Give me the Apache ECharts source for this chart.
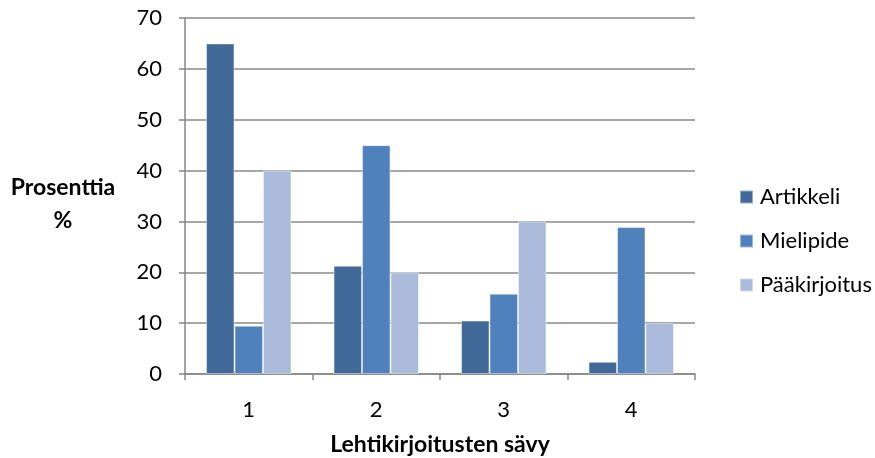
<!DOCTYPE html>
<html><head><meta charset="utf-8">
<script src="https://cdn.jsdelivr.net/npm/echarts@6/dist/echarts.min.js"></script>
<style>html,body{margin:0;padding:0;background:#fff}#c{width:875px;height:458px}</style>
</head><body><div id="c"></div>
<script>
const categories = ['1', '2', '3', '4'];
const seriesNames = ['Artikkeli', 'Mielipide', 'Pääkirjoitus'];
const artikkeli = [65, 21.3, 10.5, 2.4];
const mielipide = [9.5, 45, 15.8, 28.9];
const paakirjoitus = [40, 20, 30, 10];
const yTicks = [0, 10, 20, 30, 40, 50, 60, 70];
const yAxisTitle = 'Prosenttia\n%';
const xAxisTitle = 'Lehtikirjoitusten sävy';
const colors = ['#416A9B', '#4F81BD', '#AABADA'];

const font = 'Lato, "Open Sans", sans-serif';
const el = document.getElementById('c');
const chart = echarts.init(el);
const values = [artikkeli, mielipide, paakirjoitus];
chart.setOption({
  animation: false,
  textStyle: { fontFamily: font },
  graphic: [{
    type: 'text', x: 63, y: 204,
    style: { text: yAxisTitle, align: 'center', verticalAlign: 'middle', lineHeight: 33,
      fontSize: 23, fontWeight: 'bold', fontFamily: font, fill: '#000' }
  }],
  grid: { left: 185, right: 180, top: 18, bottom: 84, containLabel: false, outerBoundsMode: 'none' },
  legend: {
    orient: 'vertical', left: 734, top: 181,
    itemWidth: 13, itemHeight: 13, itemGap: 22,
    icon: 'rect',
    textStyle: { fontSize: 22, color: '#000', fontFamily: font, padding: [0, 0, 0, 2] },
    data: seriesNames
  },
  xAxis: {
    type: 'category', data: categories,
    name: xAxisTitle, nameLocation: 'middle', nameGap: 59,
    nameTextStyle: { fontSize: 23, fontWeight: 'bold', color: '#000', fontFamily: font },
    axisLine: { lineStyle: { color: '#868686', width: 1.5 } },
    axisTick: { show: true, length: 6, lineStyle: { color: '#868686', width: 1.5 } },
    axisLabel: { fontSize: 22, color: '#000', margin: 25, fontFamily: font }
  },
  yAxis: {
    type: 'value', min: yTicks[0], max: yTicks[yTicks.length - 1], interval: 10,
    axisLine: { show: true, lineStyle: { color: '#868686', width: 1.5 } },
    axisTick: { show: true, length: 6, lineStyle: { color: '#868686', width: 1.5 } },
    axisLabel: { fontSize: 22, color: '#000', margin: 23, fontFamily: font },
    splitLine: { lineStyle: { color: '#8a8a8a', width: 1.5 } }
  },
  series: seriesNames.map((n, i) => ({
    name: n, type: 'bar', data: values[i],
    barGap: '0%', barCategoryGap: '33%',
    itemStyle: { color: colors[i], borderColor: 'rgba(255,255,255,0.45)', borderWidth: 1 }
  }))
});
</script></body></html>
